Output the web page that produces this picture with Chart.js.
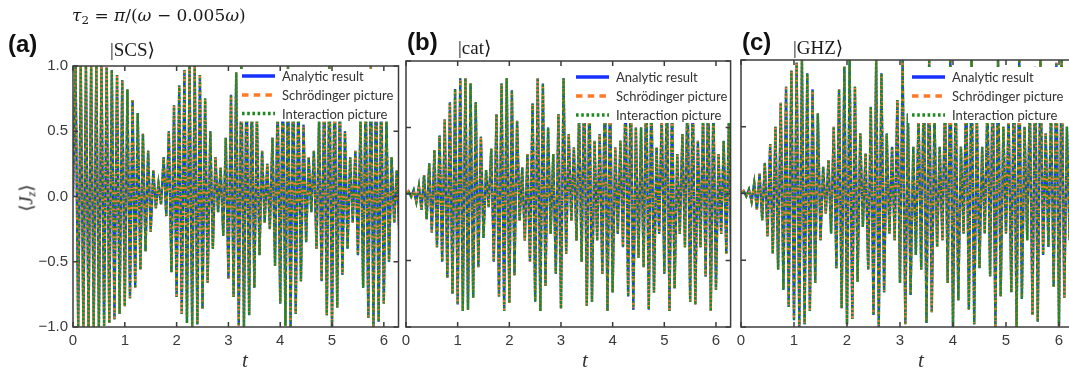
<!DOCTYPE html>
<html>
<head>
<meta charset="utf-8">
<script src="https://cdn.jsdelivr.net/npm/chart.js@4.4.1/dist/chart.umd.min.js"></script>
<style>
  html, body { margin: 0; padding: 0; background: #fff; }
  #wrap { position: relative; width: 1069px; height: 368px; overflow: hidden; }
  canvas { position: absolute; left: 0; top: 0; }
  .lbl { position: absolute; white-space: nowrap; line-height: 1; color: #1a1a1a; }
  .tag { font: bold 24px "Liberation Sans", Arial, sans-serif; color: #111; }
  .ket { font: 19px "Liberation Serif", "DejaVu Serif", serif; }
  .eq { font: 17px "DejaVu Serif", serif; }
  .tt { font: italic 21px "Liberation Serif", serif; color: #333; }
  .yt { font: 18px "Liberation Serif", serif; transform: rotate(-90deg); transform-origin: center; }
  sub { font-size: 70%; vertical-align: -0.25em; }
</style>
</head>
<body>
<div id="wrap">
  <canvas id="panelA" width="1069" height="368" style="width:1069px;height:368px"></canvas>
  <canvas id="panelB" width="1069" height="368" style="width:1069px;height:368px"></canvas>
  <canvas id="panelC" width="1090" height="368" style="width:1090px;height:368px"></canvas>

  <div class="lbl eq" style="left:72px;top:5px"><i>τ</i><sub>2</sub> = <i>π</i>/(<i>ω</i> − 0.005<i>ω</i>)</div>
  <div class="lbl tag" style="left:8px;top:30px">(a)</div>
  <div class="lbl ket" style="left:110px;top:38px">|SCS⟩</div>
  <div class="lbl tag" style="left:407px;top:28px">(b)</div>
  <div class="lbl ket" style="left:458px;top:36px">|cat⟩</div>
  <div class="lbl tag" style="left:742px;top:28px">(c)</div>
  <div class="lbl ket" style="left:793px;top:36px">|GHZ⟩</div>
  <div class="lbl yt" style="left:14px;top:186px">⟨<i>J</i><sub><i>z</i></sub>⟩</div>
  <div class="lbl tt" style="left:242px;top:348px">t</div>
  <div class="lbl tt" style="left:582px;top:348px">t</div>
  <div class="lbl tt" style="left:918px;top:348px">t</div>
</div>
<script>
// axis ticks
const xTicks = [0, 1, 2, 3, 4, 5, 6];
const yTicks = [-1, -0.5, 0, 0.5, 1];

// one oscillation period of <Jz>
const period = 0.1;

// series names
const seriesNames = ['Analytic result', 'Schrödinger picture', 'Interaction picture'];

// (a) |SCS>  : maxima / minima of each period
const scsPeaks = [1, 1, 1, 1, 1, 1, 0.99, 0.97, 0.93, 0.89,
  0.82, 0.74, 0.64, 0.48, 0.35, 0.2, 0.1, 0.3, 0.5, 0.7,
  0.85, 0.97, 1, 1, 0.93, 0.75, 0.5, 0.3, 0.22, 0.45,
  0.78, 0.95, 1, 0.97, 0.85, 0.62, 0.35, 0.25, 0.45, 0.75,
  0.95, 1, 0.96, 0.8, 0.55, 0.3, 0.35, 0.6, 0.85, 1,
  0.95, 0.75, 0.5, 0.3, 0.35, 0.6, 0.85, 1, 0.97, 0.85,
  0.6, 0.3, 0.2];
const scsTroughs = [-1, -1, -1, -1, -1, -0.99, -0.97, -0.94, -0.9, -0.84,
  -0.78, -0.7, -0.56, -0.42, -0.27, -0.09, -0.06, -0.15, -0.58, -0.77,
  -0.9, -0.97, -1, -0.98, -0.86, -0.66, -0.4, -0.12, -0.3, -0.63,
  -0.77, -0.99, -1, -0.91, -0.7, -0.45, -0.2, -0.25, -0.53, -0.82,
  -0.99, -1, -0.9, -0.65, -0.35, -0.12, -0.4, -0.65, -0.91, -1,
  -0.85, -0.6, -0.4, -0.2, -0.45, -0.7, -0.93, -1, -0.96, -0.82,
  -0.5, -0.2, -0.3];

// (b) |cat>
const catPeaks = [0.02, 0.03, 0.06, 0.14, 0.23, 0.33, 0.44, 0.56, 0.69, 0.79,
  0.87, 0.87, 0.83, 0.69, 0.43, 0.18, 0.34, 0.6, 0.83, 0.87,
  0.78, 0.55, 0.2, 0.3, 0.68, 0.87, 0.83, 0.5, 0.3, 0.6,
  0.87, 0.45, 0.35, 0.6, 0.85, 0.8, 0.4, 0.45, 0.85, 0.8,
  0.35, 0.4, 0.8, 0.87, 0.5, 0.5, 0.85, 0.8, 0.35, 0.6,
  0.87, 0.7, 0.3, 0.45, 0.82, 0.8, 0.4, 0.6, 0.88, 0.7,
  0.3, 0.4, 0.55];
const catTroughs = [-0.02, -0.06, -0.12, -0.19, -0.29, -0.4, -0.51, -0.63, -0.75, -0.83,
  -0.88, -0.87, -0.78, -0.55, -0.33, -0.1, -0.51, -0.77, -0.88, -0.82,
  -0.61, -0.2, -0.35, -0.51, -0.81, -0.88, -0.69, -0.3, -0.6, -0.86,
  -0.45, -0.2, -0.35, -0.51, -0.84, -0.81, -0.35, -0.6, -0.88, -0.74,
  -0.3, -0.4, -0.77, -0.87, -0.48, -0.55, -0.87, -0.74, -0.3, -0.6,
  -0.88, -0.71, -0.3, -0.4, -0.81, -0.83, -0.4, -0.62, -0.88, -0.72,
  -0.3, -0.45, -0.6];

// (c) |GHZ>
const ghzPeaks = [0.02, 0.03, 0.08, 0.15, 0.23, 0.37, 0.5, 0.68, 0.8, 0.92,
  0.98, 1, 0.9, 0.78, 0.6, 0.2, 0.25, 0.5, 0.78, 0.95,
  1, 0.8, 0.45, 0.3, 0.65, 1, 0.9, 0.45, 0.35, 0.7,
  1, 0.6, 0.35, 0.6, 0.9, 1, 0.6, 0.35, 0.7, 1,
  0.8, 0.35, 0.8, 1, 0.6, 0.35, 0.7, 0.9, 1, 0.5,
  0.6, 0.9, 1, 0.5, 0.7, 0.95, 1, 0.45, 0.65, 0.98,
  1, 0.5, 0.4];
const ghzTroughs = [-0.02, -0.06, -0.12, -0.2, -0.32, -0.45, -0.57, -0.72, -0.85, -0.95,
  -1, -0.98, -0.88, -0.67, -0.35, -0.15, -0.3, -0.56, -0.86, -0.98,
  -0.94, -0.66, -0.25, -0.57, -0.91, -1, -0.74, -0.3, -0.35, -0.67,
  -0.98, -0.76, -0.46, -0.57, -0.97, -0.89, -0.4, -0.35, -0.67, -1,
  -0.8, -0.3, -0.87, -0.98, -0.56, -0.3, -0.62, -1, -0.77, -0.3,
  -0.74, -1, -0.79, -0.35, -0.91, -0.96, -0.46, -0.4, -0.7, -0.99,
  -0.78, -0.35, -0.5];

const lineStyles = [
  { color: '#1530ff', dash: [] },
  { color: '#ff7a26', dash: [5, 4] },
  { color: '#1f8a1f', dash: [2, 2] }
];

function buildSeries(peaks, troughs) {
  const pts = [{ x: 0, y: 0 }];
  peaks.forEach((p, k) => {
    pts.push({ x: k * period + period / 2, y: p });
    pts.push({ x: (k + 1) * period, y: troughs[k] });
  });
  return pts;
}

// white legend box drawn on top of the traces
const boxLegend = {
  id: 'boxLegend',
  afterDatasetsDraw(chart, args, opts) {
    const { ctx, chartArea } = chart;
    ctx.save();
    ctx.fillStyle = '#fff';
    ctx.fillRect(opts.x, opts.top, chartArea.right - opts.x, opts.bottom - opts.top);
    chart.data.datasets.forEach((ds, i) => {
      const y = opts.rows[i];
      ctx.beginPath();
      ctx.strokeStyle = ds.borderColor;
      ctx.lineWidth = 3.5;
      ctx.setLineDash(ds.borderDash.map(d => d * 1.3));
      ctx.moveTo(opts.x + 4, y);
      ctx.lineTo(opts.x + 37, y);
      ctx.stroke();
      ctx.setLineDash([]);
      ctx.fillStyle = '#333';
      ctx.font = '13px Lato, "Open Sans", sans-serif';
      ctx.textBaseline = 'middle';
      ctx.fillText(ds.label, opts.x + 44, y + 1);
    });
    ctx.restore();
  }
};

// box frame with inward ticks on all four sides
const frame = {
  id: 'frame',
  afterDraw(chart) {
    const { ctx, chartArea: a, scales } = chart;
    ctx.save();
    ctx.strokeStyle = '#3c3c3c';
    ctx.lineWidth = 1.5;
    ctx.strokeRect(a.left, a.top, a.right - a.left, a.bottom - a.top);
    ctx.beginPath();
    xTicks.forEach(v => {
      const px = scales.x.getPixelForValue(v);
      ctx.moveTo(px, a.bottom); ctx.lineTo(px, a.bottom - 5);
      ctx.moveTo(px, a.top); ctx.lineTo(px, a.top + 5);
    });
    yTicks.forEach(v => {
      const py = scales.y.getPixelForValue(v);
      ctx.moveTo(a.left, py); ctx.lineTo(a.left + 5, py);
      ctx.moveTo(a.right, py); ctx.lineTo(a.right - 5, py);
    });
    ctx.stroke();
    ctx.restore();
  }
};

function makePanel(id, peaks, troughs, p) {
  const pts = buildSeries(peaks, troughs);
  const datasets = seriesNames.map((name, i) => ({
    label: name,
    data: pts,
    borderColor: lineStyles[i].color,
    borderDash: lineStyles[i].dash,
    borderWidth: 2.3,
    pointRadius: 0,
    tension: 0,
    fill: false,
    order: 3 - i
  }));
  return new Chart(document.getElementById(id), {
    type: 'line',
    data: { datasets },
    plugins: [boxLegend, frame],
    options: {
      responsive: false,
      animation: false,
      devicePixelRatio: 1,
      layout: { padding: p.padding },
      plugins: {
        legend: { display: false },
        tooltip: { enabled: false },
        boxLegend: p.legend
      },
      scales: {
        x: {
          type: 'linear',
          min: 0,
          max: 2 * Math.PI,
          afterBuildTicks: s => { s.ticks = xTicks.map(v => ({ value: v })); },
          afterFit: s => { s.height = 30; },
          grid: { display: false, drawTicks: false },
          border: { display: false },
          ticks: {
            padding: 5,
            color: '#3a3a3a',
            maxRotation: 0,
            autoSkip: false,
            font: { family: '"Liberation Sans", Arial, sans-serif', size: 15 }
          }
        },
        y: {
          type: 'linear',
          min: -1,
          max: 1,
          afterBuildTicks: s => { s.ticks = yTicks.map(v => ({ value: v })); },
          afterFit: s => { s.width = p.yWidth; },
          grid: { display: false, drawTicks: false },
          border: { display: false },
          ticks: {
            display: p.showY,
            padding: 5,
            color: '#3a3a3a',
            font: { family: '"Liberation Sans", Arial, sans-serif', size: 15 },
            callback: v => v.toFixed(1).replace('-', '\u2212')
          }
        }
      }
    }
  });
}

makePanel('panelA', scsPeaks, scsTroughs, {
  showY: true, yWidth: 73,
  padding: { left: 0, right: 670.5, top: 66, bottom: 11 },
  legend: { x: 238, top: 69, bottom: 121.5, rows: [76, 95, 113.5] }
});
makePanel('panelB', catPeaks, catTroughs, {
  showY: false, yWidth: 8,
  padding: { left: 398, right: 338.4, top: 61, bottom: 11 },
  legend: { x: 572, top: 63, bottom: 123, rows: [77, 96, 115] }
});
makePanel('panelC', ghzPeaks, ghzTroughs, {
  showY: false, yWidth: 8,
  padding: { left: 733, right: 16, top: 60, bottom: 11 },
  legend: { x: 908, top: 67, bottom: 123, rows: [77, 96, 115] }
});
</script>
</body>
</html>
